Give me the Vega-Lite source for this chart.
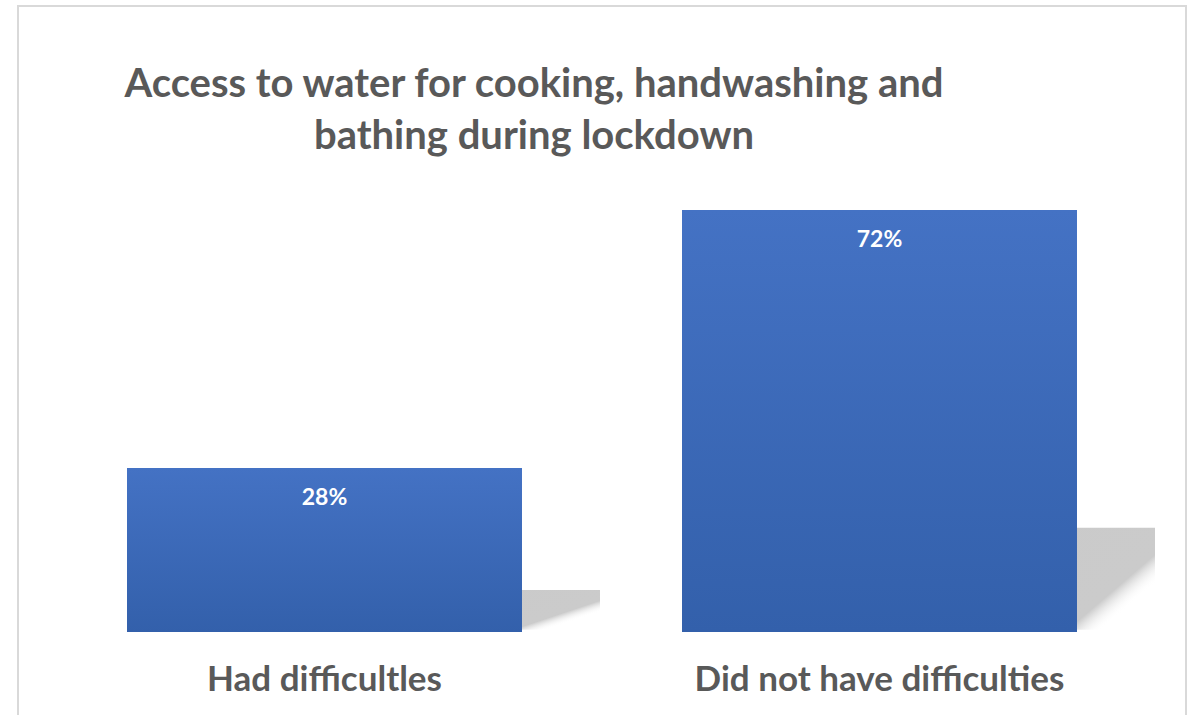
{
  "$schema": "https://vega.github.io/schema/vega-lite/v6.json",
  "autosize": "none",
  "width": 1168,
  "height": 734,
  "padding": {"left": 18, "top": 6, "right": 2, "bottom": 0},
  "background": "white",
  "config": {"view": {"stroke": "#d9d9d9", "strokeWidth": 2}, "font": "Lato"},
  "title": {
    "text": ["Access to water for cooking, handwashing and", "bathing during lockdown"],
    "font": "Lato",
    "fontSize": 40,
    "fontWeight": "bold",
    "color": "#595959",
    "anchor": "middle",
    "dx": -68,
    "dy": 151,
    "lineHeight": 52,
    "offset": 0,
    "baseline": "top"
  },
  "data": {
    "values": [
      {"category": "Had difficultles", "value": 0.28},
      {"category": "Did not have difficulties", "value": 0.72}
    ]
  },
  "encoding": {
    "x": {
      "field": "category",
      "type": "nominal",
      "sort": null,
      "axis": null,
      "scale": {"paddingInner": 0.2883, "paddingOuter": 0.1964}
    }
  },
  "layer": [
    {
      "mark": {
        "type": "bar",
        "xOffset": 78,
        "color": {
          "gradient": "linear",
          "x1": 0, "y1": 0, "x2": 1.1, "y2": 0.33,
          "stops": [
            {"offset": 0, "color": "#c9c9c9"},
            {"offset": 0.9, "color": "#cbcbcb"},
            {"offset": 0.97, "color": "rgba(255,255,255,0)"}
          ]
        }
      },
      "encoding": {
        "y": {"field": "value", "type": "quantitative", "axis": null, "scale": {"domain": [-0.7776, 4.4], "nice": false, "zero": false}},
        "y2": {"datum": 0}
      }
    },
    {
      "mark": {
        "type": "bar",
        "color": {
          "gradient": "linear",
          "x1": 0, "y1": 0, "x2": 0, "y2": 1,
          "stops": [
            {"offset": 0, "color": "#4472c4"},
            {"offset": 1, "color": "#3360ab"}
          ]
        }
      },
      "encoding": {
        "y": {"field": "value", "type": "quantitative", "axis": null, "scale": {"domain": [-0.18427, 1.0681], "nice": false, "zero": false}},
        "y2": {"datum": 0}
      }
    },
    {
      "mark": {"type": "text", "color": "white", "font": "Lato", "fontSize": 23, "fontWeight": "bold", "baseline": "middle", "dy": 30},
      "encoding": {
        "y": {"field": "value", "type": "quantitative", "axis": null, "scale": {"domain": [-0.18427, 1.0681], "nice": false, "zero": false}},
        "text": {"field": "value", "type": "quantitative", "format": ".0%"}
      }
    },
    {
      "mark": {"type": "text", "color": "#595959", "font": "Lato", "fontSize": 35, "fontWeight": "bold", "baseline": "middle"},
      "encoding": {
        "y": {"datum": -0.0819, "type": "quantitative", "axis": null, "scale": {"domain": [-0.18427, 1.0681], "nice": false, "zero": false}},
        "text": {"field": "category", "type": "nominal"}
      }
    }
  ],
  "resolve": {"scale": {"y": "independent"}}
}
